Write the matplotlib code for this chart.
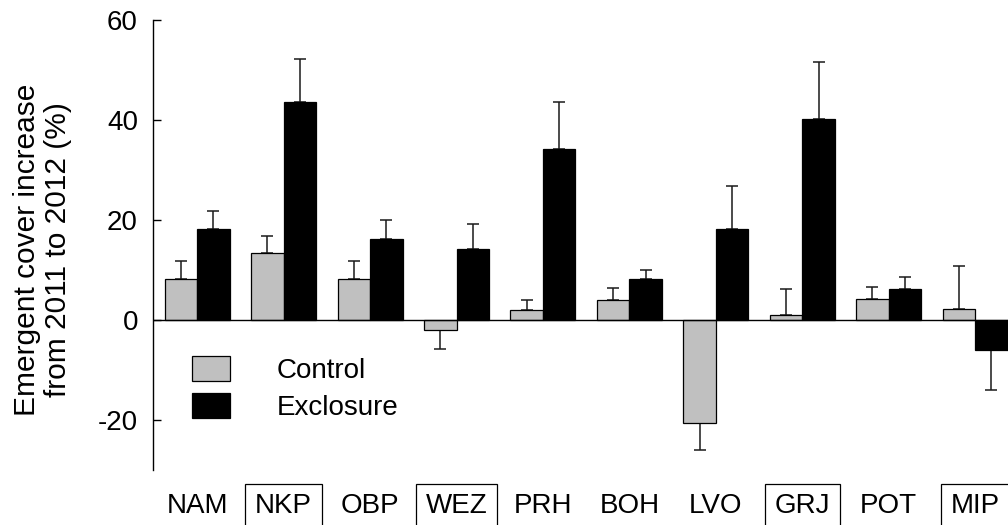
import numpy as np
import matplotlib
matplotlib.use("Agg")
import matplotlib.pyplot as plt

plt.rcParams['font.family'] = ['Liberation Sans', 'DejaVu Sans']

sites = ['NAM', 'NKP', 'OBP', 'WEZ', 'PRH', 'BOH', 'LVO', 'GRJ', 'POT', 'MIP']
boxed = ['NKP', 'WEZ', 'GRJ', 'MIP']

control = [8.1, 13.3, 8.1, -2.0, 2.0, 4.0, -20.7, 1.0, 4.1, 2.1]
control_err = [3.6, 3.4, 3.6, 3.8, 2.0, 2.4, 5.4, 5.1, 2.4, 8.6]
exclosure = [18.1, 43.5, 16.1, 14.1, 34.2, 8.1, 18.1, 40.2, 6.1, -6.1]
exclosure_err = [3.7, 8.7, 3.9, 5.1, 9.3, 1.9, 8.6, 11.3, 2.4, 8.0]

yticks = [-20, 0, 20, 40, 60]


def one_sided(vals, errs):
    # error bar only on the far side of the bar
    vals = np.array(vals)
    errs = np.array(errs)
    lower = np.where(vals < 0, errs, 0)
    upper = np.where(vals >= 0, errs, 0)
    return [lower, upper]


fig = plt.figure(figsize=(10.08, 5.25), dpi=100)
ax = fig.add_axes([0.152, 0.105, 0.848, 0.857])

x = np.arange(len(sites))
w = 0.376

ax.bar(x - w / 2, control, w, color='#c0c0c0', edgecolor='black', linewidth=0.9,
       label='Control', zorder=2)
ax.bar(x + w / 2, exclosure, w, color='black', edgecolor='black', linewidth=0.9,
       label='Exclosure', zorder=2)
ax.errorbar(x - w / 2, control, yerr=one_sided(control, control_err), fmt='none',
            ecolor='#1a1a1a', elinewidth=1.1, capsize=4.3, capthick=1.1, zorder=1)
ax.errorbar(x + w / 2, exclosure, yerr=one_sided(exclosure, exclosure_err), fmt='none',
            ecolor='#1a1a1a', elinewidth=1.1, capsize=4.3, capthick=1.1, zorder=1)
ax.axhline(0, color='black', linewidth=1, zorder=3)

ax.set_xlim(-0.509, 9.38)
ax.set_ylim(-30, 60)
ax.set_yticks(yticks)
ax.set_yticklabels([str(t) for t in yticks])

ax.spines['top'].set_visible(False)
ax.spines['right'].set_visible(False)
ax.spines['bottom'].set_visible(False)
ax.spines['left'].set_linewidth(1)

ax.tick_params(axis='y', direction='in', length=6, width=1, labelsize=20, pad=11)
ax.tick_params(axis='x', length=0, labelsize=20, pad=17)
ax.set_xticks(x)
ax.set_xticklabels(sites)
for lbl in ax.get_xticklabels():
    if lbl.get_text() in boxed:
        lbl.set_bbox(dict(facecolor='none', edgecolor='black', linewidth=0.9, pad=7))

ax.set_ylabel('Emergent cover increase\nfrom 2011 to 2012 (%)', fontsize=21.5,
              multialignment='center', linespacing=1.15)
ax.yaxis.set_label_coords(-0.095, 0.49)

ax.legend(loc='upper left', bbox_to_anchor=(0.045, 0.252), frameon=False, fontsize=20,
          handlelength=1.37, handleheight=1.0, handletextpad=1.7, labelspacing=0.3,
          borderpad=0, borderaxespad=0)

fig.savefig('out.png', dpi=100)
